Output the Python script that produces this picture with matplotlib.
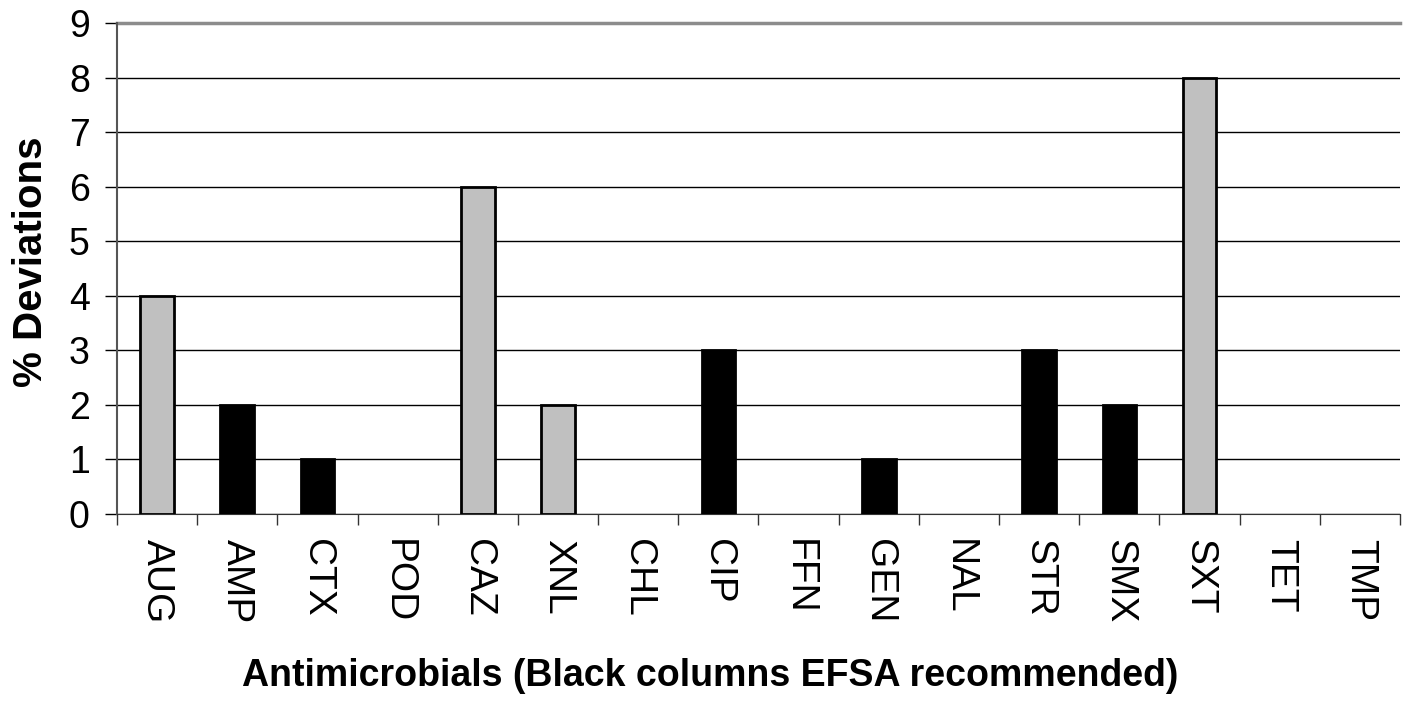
import numpy as np
import matplotlib
matplotlib.use("Agg")
import matplotlib.pyplot as plt

plt.rcParams['font.family'] = ['Liberation Sans', 'DejaVu Sans']

# data
drugs = ["AUG", "AMP", "CTX", "POD", "CAZ", "XNL", "CHL", "CIP",
         "FFN", "GEN", "NAL", "STR", "SMX", "SXT", "TET", "TMP"]
deviations = [4, 2, 1, 0, 6, 2, 0, 3, 0, 1, 0, 3, 2, 8, 0, 0]
efsa_recommended = [False, True, True, True, False, False, True, True,
                    True, True, True, True, True, False, True, True]

colors = ["black" if r else "#c0c0c0" for r in efsa_recommended]
edges = ["black" if v > 0 else "none" for v in deviations]

fig = plt.figure(figsize=(14.13, 7.08), dpi=100)
ax = fig.add_axes([0.0828, 0.274, 0.908, 0.6935])

x = np.arange(len(drugs))
ax.bar(x, deviations, width=0.42, color=colors, edgecolor=edges,
       linewidth=2, zorder=3)

ax.set_xlim(-0.5, len(drugs) - 0.5)
ax.set_ylim(0, 9)
ax.set_yticks(range(10))
ax.yaxis.grid(True, color="black", linewidth=1, zorder=0)
ax.set_axisbelow(True)
# top border line is grey in the original
ax.axhline(9, color="#8c8c8c", linewidth=2.5, clip_on=False, zorder=2)

# category labels, ticks between categories
ax.set_xticks(x)
ax.set_xticklabels(drugs, rotation=270, fontsize=28)
ax.tick_params(axis="x", length=0, pad=18)
ax.set_xticks(np.arange(-0.5, len(drugs), 1), minor=True)
ax.tick_params(axis="x", which="minor", length=8, width=1, color="#333333",
               direction="out")
ax.tick_params(axis="y", labelsize=27, length=8.6, width=1, pad=11,
               direction="out")

for side in ["top", "right"]:
    ax.spines[side].set_visible(False)
ax.spines["left"].set_color("#555555")
ax.spines["left"].set_linewidth(1.5)
ax.spines["bottom"].set_color("#333333")

ax.set_ylabel("% Deviations", fontsize=29, fontweight="bold")
ax.yaxis.set_label_coords(-0.052, 0.513)
ax.set_xlabel("Antimicrobials (Black columns EFSA recommended)",
              fontsize=27, fontweight="bold")
ax.xaxis.set_label_coords(0.462, -0.294)

plt.savefig("out.png", dpi=100)
